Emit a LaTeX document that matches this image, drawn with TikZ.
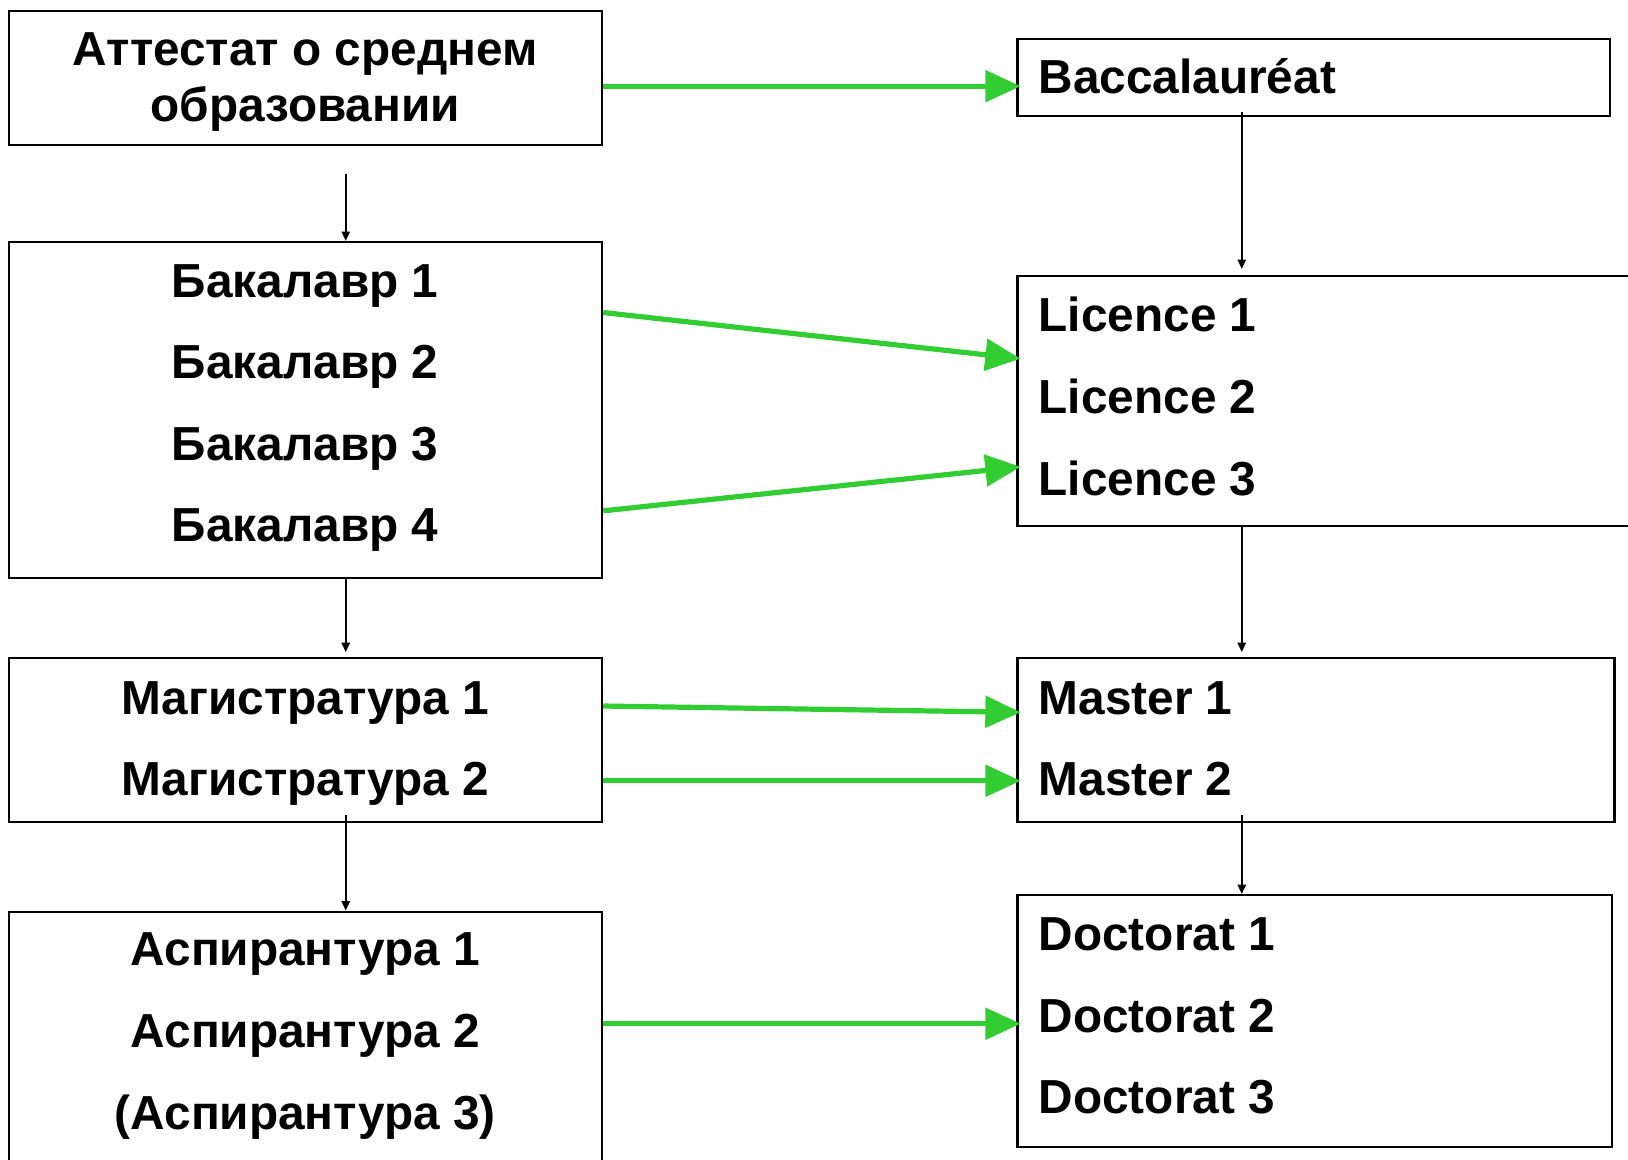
\documentclass[tikz,border=0pt]{standalone}
\usepackage{fontspec}
\setmainfont{Liberation Sans}
\usetikzlibrary{arrows.meta,fit}
\definecolor{arrgreen}{RGB}{50,205,50}
\tikzset{
  box/.style={draw=black, line width=1pt, inner sep=0pt, fill=none},
  lbl/.style={font=\bfseries\fontsize{23}{27}\selectfont, inner sep=0pt, anchor=base},
  lblL/.style={lbl, anchor=base west},
  garrow/.style={draw=arrgreen, line width=2.5pt, -{Triangle[length=17pt,width=15pt]}, shorten >=-2pt},
  karrow/.style={draw=black, line width=0.8pt, -{Triangle[length=4.5pt,width=4pt]}}
}
\begin{document}
\begin{tikzpicture}[x=0.5pt,y=-0.5pt]
\useasboundingbox (0,0) rectangle (1568,1117);
% boxes
\node[box, fit={(9,11)(580,140)}] (att) {};
\node[box, fit={(980,38)(1551,112)}] (bac) {};
\node[box, fit={(9,233)(580,557)}] (bak) {};
\node[box, fit={(980,266)(1600,507)}] (lic) {};
\node[box, fit={(9,634)(580,792)}] (mag) {};
\node[box, fit={(980,634)(1555,792)}] (mas) {};
\node[box, fit={(9,878)(580,1140)}] (asp) {};
\node[box, fit={(980,862)(1553,1105)}] (doc) {};
% texts left
\node[lbl] (t1) at (294,63) {Аттестат о среднем};
\node[lbl] (t2) at (294,117) {образовании};
\node[lbl] (b1) at (294,287) {Бакалавр 1};
\node[lbl] (b2) at (294,365) {Бакалавр 2};
\node[lbl] (b3) at (294,444) {Бакалавр 3};
\node[lbl] (b4) at (294,522) {Бакалавр 4};
\node[lbl] (m1) at (294,688) {Магистратура 1};
\node[lbl] (m2) at (294,766) {Магистратура 2};
\node[lbl] (a1) at (294,930) {Аспирантура 1};
\node[lbl] (a2) at (294,1009) {Аспирантура 2};
\node[lbl] (a3) at (294,1088) {(Аспирантура 3)};
% texts right
\node[lblL] (r0) at (1000,90) {Baccalauréat};
\node[lblL] (l1) at (1000,319) {Licence 1};
\node[lblL] (l2) at (1000,398) {Licence 2};
\node[lblL] (l3) at (1000,477) {Licence 3};
\node[lblL] (s1) at (1000,688) {Master 1};
\node[lblL] (s2) at (1000,766) {Master 2};
\node[lblL] (d1) at (1000,915) {Doctorat 1};
\node[lblL] (d2) at (1000,994) {Doctorat 2};
\node[lblL] (d3) at (1000,1072) {Doctorat 3};
% black arrows
\coordinate (c1) at (333,168);
\coordinate (c2) at (333,785);
\coordinate (c3) at (1196,108);
\coordinate (c4) at (1196,785);
\draw[karrow] (c1) -- (c1 |- bak.north);
\draw[karrow, shorten >=2.5pt] (bak.south -| c1) -- (c1 |- mag.north);
\draw[karrow] (c2) -- (c2 |- asp.north);
\draw[karrow, shorten >=3pt] (c3) -- (c3 |- lic.north);
\draw[karrow, shorten >=2.5pt] (lic.south -| c3) -- (c3 |- mas.north);
\draw[karrow] (c4) -- (c4 |- doc.north);
% green arrows
\draw[garrow] (att.east |- 0,83) -- (bac.west |- 0,83);
\draw[garrow] (bak.east |- 0,301) -- (lic.west |- 0,345);
\draw[garrow] (bak.east |- 0,492) -- (lic.west |- 0,450);
\draw[garrow] (mag.east |- 0,680) -- (mas.west |- 0,686);
\draw[garrow] (mag.east |- 0,752) -- (mas.west |- 0,752);
\draw[garrow] (asp.east |- 0,986) -- (doc.west |- 0,986);
\end{tikzpicture}
\end{document}
